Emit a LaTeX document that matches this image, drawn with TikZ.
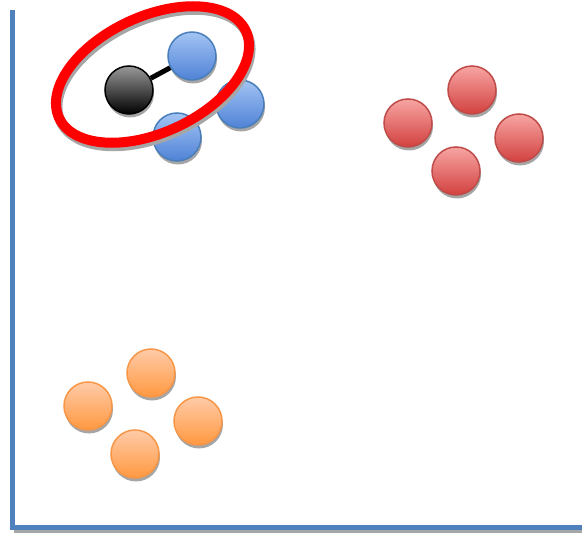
\documentclass[tikz,border=0pt]{standalone}
\usetikzlibrary{shadows}
\definecolor{axisblue}{HTML}{4F81BD}
\definecolor{shadowgray}{HTML}{A6A6A6}
\definecolor{bluetop}{HTML}{A3C4F3}
\definecolor{bluebot}{HTML}{4F82D6}
\definecolor{blueline}{HTML}{4A7EBB}
\definecolor{redtop}{HTML}{F7A5A3}
\definecolor{redbot}{HTML}{D2413F}
\definecolor{redline}{HTML}{BE4B48}
\definecolor{orgtop}{HTML}{FFCBA8}
\definecolor{orgbot}{HTML}{FF9840}
\definecolor{orgline}{HTML}{F79646}
\definecolor{ringred}{HTML}{FF0000}
\tikzset{
  ball/.style={circle, minimum size=48pt, inner sep=0pt, line width=1.5pt,
    drop shadow={shadow xshift=1pt, shadow yshift=-3.5pt, fill=shadowgray, opacity=1}},
  blueball/.style={ball, draw=blueline, top color=bluetop, bottom color=bluebot},
  redball/.style={ball, draw=redline, top color=redtop, bottom color=redbot},
  orgball/.style={ball, draw=orgline, top color=orgtop, bottom color=orgbot},
  blackball/.style={ball, draw=black, top color=gray!80, bottom color=black},
  axisline/.style={line width=5pt, draw=axisblue},
  axisshadow/.style={line width=4pt, draw=shadowgray},
}
\begin{document}
\begin{tikzpicture}[x=1pt,y=-1pt]
\useasboundingbox (0,0) rectangle (582,535);
% axes
\coordinate (top) at (12.5,10);
\coordinate (origin) at (12.5,527);
\coordinate (right) at (582,527);
\draw[axisshadow] ([shift={(1,3.5)}]origin) -- ([shift={(1,3.5)}]right);
\draw[axisline] (top) -- (origin) -- (right);
% blue group
\node[blueball] (b1) at (192,56) {};
\node[blueball] (b2) at (240,104) {};
\node[blueball] (b3) at (177,137) {};
\node[blackball] (k) at (129,90) {};
\draw[line width=5pt, black] (k) -- (b1);
% red ring
\draw[shadowgray, line width=10pt, rotate around={25:(154,78)}] (154,78) ellipse [x radius=103pt, y radius=58pt];
\draw[ringred, line width=10pt, rotate around={25:(152.5,74.5)}] (152.5,74.5) ellipse [x radius=103pt, y radius=58pt];
% red group
\node[redball] (r1) at (472,90) {};
\node[redball] (r2) at (408,123) {};
\node[redball] (r3) at (519,138) {};
\node[redball] (r4) at (456,171) {};
% orange group
\node[orgball] (o1) at (151,373) {};
\node[orgball] (o2) at (88,406) {};
\node[orgball] (o3) at (198,421) {};
\node[orgball] (o4) at (135,454) {};
\end{tikzpicture}
\end{document}
